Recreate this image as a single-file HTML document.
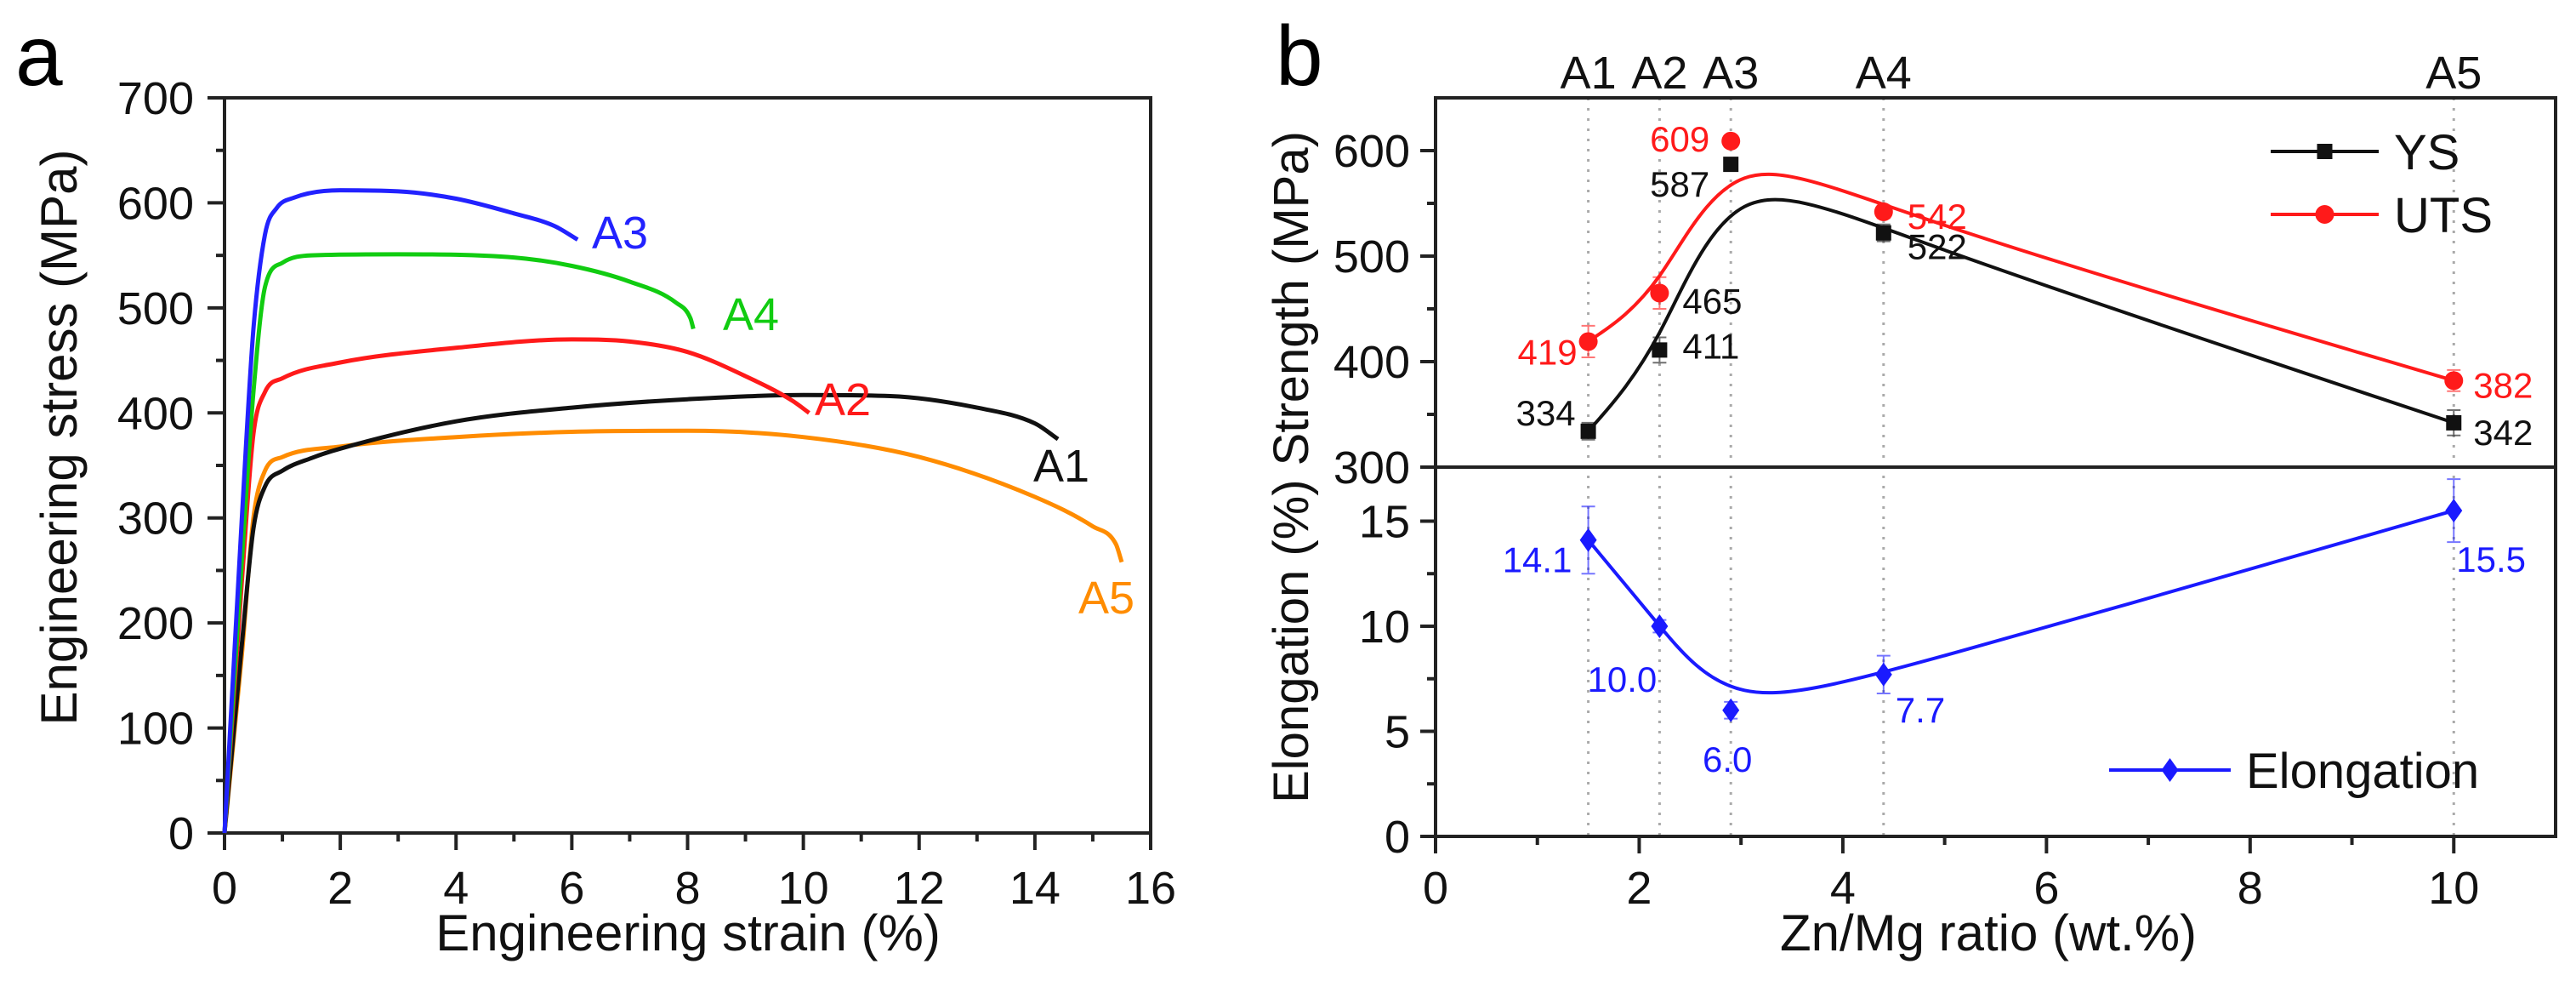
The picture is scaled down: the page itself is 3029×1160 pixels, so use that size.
<!DOCTYPE html>
<html><head><meta charset="utf-8"><style>
html,body{margin:0;padding:0;background:#fff;}
svg{display:block;font-family:"Liberation Sans",Arial,sans-serif;}
</style></head><body>
<svg id="fig" width="3029" height="1160" viewBox="0 0 3029 1160" xmlns="http://www.w3.org/2000/svg">
<text x="18" y="100" font-size="100">a</text>
<text x="1500" y="100" font-size="100">b</text>
<g id="pa"></g>
<g id="pb"></g>
</svg>
<script>
// ---------- Panel a data ----------
const a1Strain=[0,0.3,0.5,0.7,1,1.5,2,4,6,8,10,11.5,13,14,14.4];
const a1Stress=[0,180,290,330,345,357,366,392,405,413,417,416,405,390,375];
const a2Strain=[0,0.3,0.5,0.7,1,2,4,6,7,8,9,9.8,10.1];
const a2Stress=[0,240,380,420,433,448,462,470,468,458,435,412,400];
const a3Strain=[0,0.3,0.5,0.7,0.9,1.2,2,3,4,5,5.7,6.1];
const a3Stress=[0,300,480,570,595,605,612,611,604,590,578,565];
const a4Strain=[0,0.3,0.5,0.7,1,1.5,3,5,6,7,7.8,8.05,8.1];
const a4Stress=[0,260,420,520,543,550,551,548,540,525,505,490,480];
const a5Strain=[0,0.3,0.5,0.7,1,2,4,6,8,10,12,14,15,15.4,15.5];
const a5Stress=[0,170,300,345,358,368,377,382,383,377,358,320,292,275,258];
const aXTicks=[0,2,4,6,8,10,12,14,16];
const aYTicks=[0,100,200,300,400,500,600,700];

// ---------- Panel b data ----------
const bRatio=[1.5,2.2,2.9,4.4,10];
const bNames=["A1","A2","A3","A4","A5"];
const ysVals=[334,411,587,522,342];
const utsVals=[419,465,609,542,382];
const elVals=[14.1,10.0,6.0,7.7,15.5];
const ysErr=[8,12,6,8,12];
const utsErr=[15,15,5,6,10];
const elErr=[1.6,0.3,0.4,0.9,1.5];
const bXTicks=[0,2,4,6,8,10];
const bYTicksTop=[300,400,500,600];
const bYTicksBot=[0,5,10,15];

const NS="http://www.w3.org/2000/svg";
function mk(parent,tag,attrs,txt){const e=document.createElementNS(NS,tag);for(const k in attrs)e.setAttribute(k,attrs[k]);if(txt!==undefined)e.textContent=txt;parent.appendChild(e);return e;}

// ===== Panel a =====
const pa=document.getElementById('pa');
const aL=264,aR=1353,aT=115,aB=979;
const ax=v=>aL+(v/16)*(aR-aL);
const ay=v=>aB-(v/700)*(aB-aT);
for(let v=1;v<16;v+=2){const t=mk(pa,'line',{x1:ax(v),x2:ax(v),y1:aB,y2:aB+10,stroke:'#222','stroke-width':4});
}
for(let v=50;v<700;v+=100){const t=mk(pa,'line',{x1:aL-10,x2:aL,y1:ay(v),y2:ay(v),stroke:'#222','stroke-width':4});
}
aXTicks.forEach(v=>{const t=mk(pa,'line',{x1:ax(v),x2:ax(v),y1:aB,y2:aB+20,stroke:'#222','stroke-width':4});

const l=mk(pa,'text',{x:ax(v),y:1062,'font-size':54,'text-anchor':'middle',fill:'#111'},String(v));
});
aYTicks.forEach(v=>{const t=mk(pa,'line',{x1:aL-20,x2:aL,y1:ay(v),y2:ay(v),stroke:'#222','stroke-width':4});

const l=mk(pa,'text',{x:228,y:ay(v)+19,'font-size':54,'text-anchor':'end',fill:'#111'},String(v));
});
const fa=mk(pa,'rect',{x:aL,y:aT,width:aR-aL,height:aB-aT,fill:'none',stroke:'#222','stroke-width':4});

const axt=mk(pa,'text',{x:809,y:1117,'font-size':60,'text-anchor':'middle',fill:'#111'},'Engineering strain (%)');

const ayt=mk(pa,'text',{x:0,y:0,'font-size':60,'text-anchor':'middle',fill:'#111',transform:'translate(90,514) rotate(-90)'},'Engineering stress (MPa)');


function monotonePath(px,py){ // Fritsch-Carlson monotone cubic
 const n=px.length,dx=[],s=[],m=new Array(n);
 for(let i=0;i<n-1;i++){dx[i]=px[i+1]-px[i];s[i]=(py[i+1]-py[i])/dx[i];}
 m[0]=s[0];m[n-1]=s[n-2];
 for(let i=1;i<n-1;i++){m[i]=(s[i-1]*s[i]<=0)?0:(s[i-1]+s[i])/2;}
 for(let i=0;i<n-1;i++){if(s[i]===0){m[i]=0;m[i+1]=0;continue;}const a=m[i]/s[i],b=m[i+1]/s[i],h=a*a+b*b;if(h>9){const t=3/Math.sqrt(h);m[i]=t*a*s[i];m[i+1]=t*b*s[i];}}
 let d='M'+px[0].toFixed(1)+','+py[0].toFixed(1);
 for(let i=0;i<n-1;i++){const h=dx[i]/3;d+=`C${(px[i]+h).toFixed(1)},${(py[i]+m[i]*h).toFixed(1)} ${(px[i+1]-h).toFixed(1)},${(py[i+1]-m[i+1]*h).toFixed(1)} ${px[i+1].toFixed(1)},${py[i+1].toFixed(1)}`;}
 return d;}
const curves=[
 {n:'a5',xs:a5Strain,ys:a5Stress,c:'#ff8c00',lab:'A5',lx:1268,ly:721},
 {n:'a1',xs:a1Strain,ys:a1Stress,c:'#111111',lab:'A1',lx:1215,ly:566},
 {n:'a2',xs:a2Strain,ys:a2Stress,c:'#ff1a1a',lab:'A2',lx:958,ly:488},
 {n:'a4',xs:a4Strain,ys:a4Stress,c:'#11cc11',lab:'A4',lx:850,ly:388},
 {n:'a3',xs:a3Strain,ys:a3Stress,c:'#2222ff',lab:'A3',lx:696,ly:292}];
curves.forEach(cv=>{
 const p=mk(pa,'path',{d:monotonePath(cv.xs.map(ax),cv.ys.map(ay)),fill:'none',stroke:cv.c,'stroke-width':5,'stroke-linejoin':'round'});
 
 const l=mk(pa,'text',{x:cv.lx,y:cv.ly,'font-size':54,fill:cv.c},cv.lab);
 
});

// ===== Panel b =====
const pb=document.getElementById('pb');
const bL=1688,bR=3005,bT=115,bM=549,bB=983;
const bx=v=>bL+(v/11)*(bR-bL);
const byT=v=>bM-((v-300)/350)*(bM-bT);
const byB=v=>bB-(v/17.57)*(bB-bM);
bRatio.forEach((v,i)=>{const g=mk(pb,'line',{x1:bx(v),x2:bx(v),y1:bT,y2:bB,stroke:'#aaa','stroke-width':3,'stroke-dasharray':'3,9'});

const l=mk(pb,'text',{x:bx(v),y:104,'font-size':54,'text-anchor':'middle',fill:'#111'},bNames[i]);
});
for(let v=1;v<11;v+=2){const t=mk(pb,'line',{x1:bx(v),x2:bx(v),y1:bB,y2:bB+10,stroke:'#222','stroke-width':4});
}
bXTicks.forEach(v=>{const t=mk(pb,'line',{x1:bx(v),x2:bx(v),y1:bB,y2:bB+20,stroke:'#222','stroke-width':4});

const l=mk(pb,'text',{x:bx(v),y:1062,'font-size':54,'text-anchor':'middle',fill:'#111'},String(v));
});
for(let v=350;v<650;v+=100){const t=mk(pb,'line',{x1:bL-10,x2:bL,y1:byT(v),y2:byT(v),stroke:'#222','stroke-width':4});
}
for(let v=2.5;v<17.5;v+=5){const t=mk(pb,'line',{x1:bL-10,x2:bL,y1:byB(v),y2:byB(v),stroke:'#222','stroke-width':4});
}
bYTicksTop.forEach(v=>{const t=mk(pb,'line',{x1:bL-18,x2:bL,y1:byT(v),y2:byT(v),stroke:'#222','stroke-width':4});

const l=mk(pb,'text',{x:1658,y:byT(v)+19,'font-size':54,'text-anchor':'end',fill:'#111'},String(v));
});
bYTicksBot.forEach(v=>{const t=mk(pb,'line',{x1:bL-18,x2:bL,y1:byB(v),y2:byB(v),stroke:'#222','stroke-width':4});

const l=mk(pb,'text',{x:1658,y:byB(v)+19,'font-size':54,'text-anchor':'end',fill:'#111'},String(v));
});
const fb=mk(pb,'rect',{x:bL,y:bT,width:bR-bL,height:bB-bT,fill:'none',stroke:'#222','stroke-width':4});

const dv=mk(pb,'line',{x1:bL,x2:bR,y1:bM,y2:bM,stroke:'#222','stroke-width':4});

const bxt=mk(pb,'text',{x:2338,y:1117,'font-size':60,'text-anchor':'middle',fill:'#111'},'Zn/Mg ratio (wt.%)');

const byt=mk(pb,'text',{x:0,y:0,'font-size':58,'text-anchor':'middle',fill:'#111',transform:'translate(1538,549) rotate(-90)'},'Elongation (%) Strength (MPa)');


function basisPath(px,py){ // clamped cubic B-spline
 const n=px.length;
 const X=[px[0],px[0],...px,px[n-1],px[n-1]],Y=[py[0],py[0],...py,py[n-1],py[n-1]];
 let d='';
 for(let i=1;i<X.length-2;i++){
  const x0=X[i-1],x1=X[i],x2=X[i+1],x3=X[i+2],y0=Y[i-1],y1=Y[i],y2=Y[i+1],y3=Y[i+2];
  if(i===1)d='M'+((x0+4*x1+x2)/6).toFixed(1)+','+((y0+4*y1+y2)/6).toFixed(1);
  d+=`C${((2*x1+x2)/3).toFixed(1)},${((2*y1+y2)/3).toFixed(1)} ${((x1+2*x2)/3).toFixed(1)},${((y1+2*y2)/3).toFixed(1)} ${((x1+4*x2+x3)/6).toFixed(1)},${((y1+4*y2+y3)/6).toFixed(1)}`;}
 return d;}
const series=[
 {n:'ys',vals:ysVals,err:ysErr,y:byT,c:'#111111',m:'sq'},
 {n:'uts',vals:utsVals,err:utsErr,y:byT,c:'#ff1a1a',m:'ci'},
 {n:'elongation',vals:elVals,err:elErr,y:byB,c:'#1a1aff',m:'di'}];
series.forEach(s=>{
 const p=mk(pb,'path',{d:basisPath(bRatio.map(bx),s.vals.map(s.y)),fill:'none',stroke:s.c,'stroke-width':4});
 
 s.vals.forEach((v,i)=>{
  const x=bx(bRatio[i]),y=s.y(v),y1=s.y(v+s.err[i]),y2=s.y(v-s.err[i]);
  const e=mk(pb,'path',{d:`M${x},${y1}V${y2}M${x-8},${y1}H${x+8}M${x-8},${y2}H${x+8}`,stroke:s.c,'stroke-width':2,opacity:0.6,fill:'none'});
  
  let m;
  if(s.m==='sq')m=mk(pb,'rect',{x:x-9,y:y-9,width:18,height:18,fill:s.c});
  else if(s.m==='ci')m=mk(pb,'circle',{cx:x,cy:y,r:11,fill:s.c});
  else m=mk(pb,'path',{d:`M${x},${y-14}L${x+10},${y}L${x},${y+14}L${x-10},${y}Z`,fill:s.c});
  
 });
});
// value labels: [series, index, dx, dy, anchor, colour]
const labelPos=[
 ['uts',0,-48,27,'middle',null],['uts',1,27,24,'start','#111'],['uts',2,-60,12,'middle',null],['uts',3,28,20,'start',null],['uts',4,23,20,'start',null],
 ['ys',0,-50,-7,'middle',null],['ys',1,27,10,'start',null],['ys',2,-60,38,'middle',null],['ys',3,28,31,'start',null],['ys',4,23,26,'start',null],
 ['elongation',0,-60,38,'middle',null],['elongation',1,-44,77,'middle',null],['elongation',2,-4,72,'middle',null],['elongation',3,14,56,'start',null],['elongation',4,3,72,'start',null]];
labelPos.forEach(lp=>{
 const s=series.find(q=>q.n===lp[0]);const i=lp[1];
 const x=bx(bRatio[i])+lp[2],y=s.y(s.vals[i])+lp[3];
 const txt=s.n==='elongation'?s.vals[i].toFixed(1):String(s.vals[i]);
 const l=mk(pb,'text',{x:x,y:y,'font-size':42,'text-anchor':lp[4],fill:lp[5]||s.c},txt);
 
 
});
function legend(x1,x2,y,c,m,txt,name){
 const g=mk(pb,'g',{});
 
 
 mk(g,'line',{x1:x1,x2:x2,y1:y,y2:y,stroke:c,'stroke-width':4});const cx=(x1+x2)/2;
 if(m==='sq')mk(g,'rect',{x:cx-9,y:y-9,width:18,height:18,fill:c});
 else if(m==='ci')mk(g,'circle',{cx:cx,cy:y,r:11,fill:c});
 else mk(g,'path',{d:`M${cx},${y-14}L${cx+10},${y}L${cx},${y+14}L${cx-10},${y}Z`,fill:c});
 mk(g,'text',{x:x2+18,y:y+21,'font-size':58,fill:'#111'},txt);}
legend(2670,2797,178,'#111111','sq','YS','legend-ys');
legend(2670,2797,252,'#ff1a1a','ci','UTS','legend-uts');
legend(2480,2623,905,'#1a1aff','di','Elongation','legend-elongation');
</script>
</body></html>
